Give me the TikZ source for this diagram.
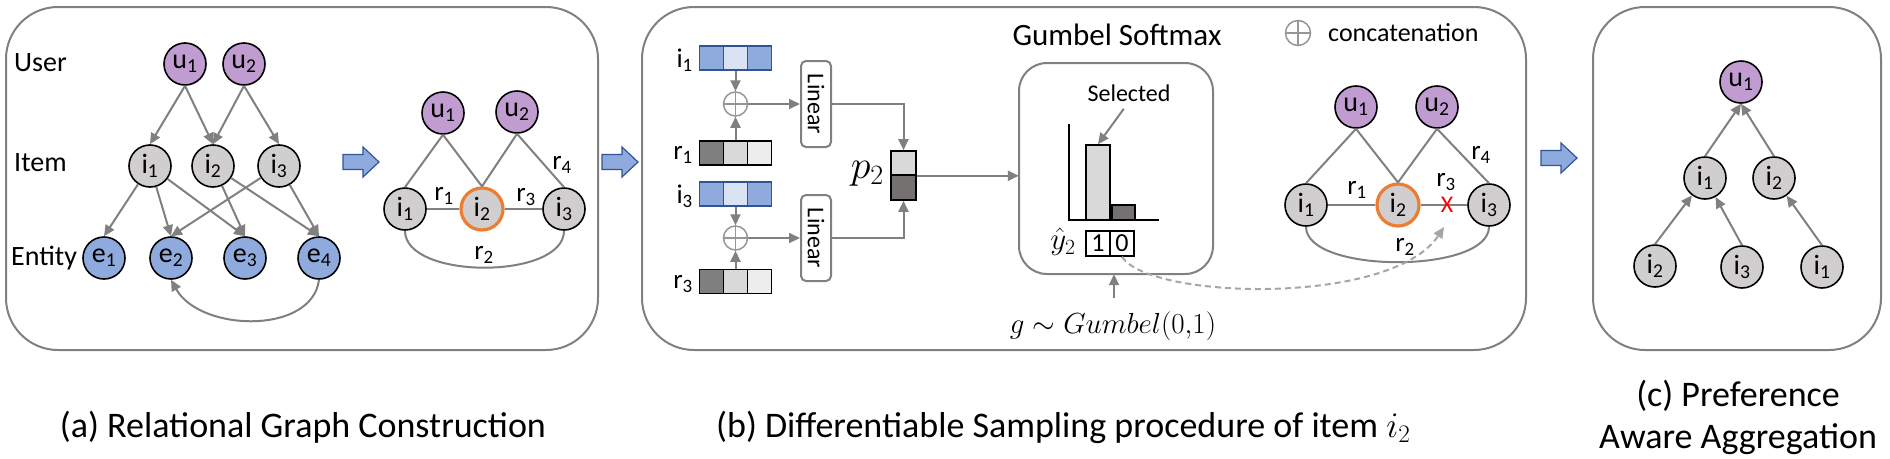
\RequirePackage{fix-cm}
\documentclass[tikz,border=0pt]{standalone}
\usepackage{fontspec}
\setmainfont{Carlito}
\usetikzlibrary{arrows.meta}
\definecolor{upurple}{RGB}{192,156,208}
\definecolor{igray}{RGB}{208,206,206}
\definecolor{eblue}{RGB}{143,170,220}
\definecolor{orng}{RGB}{237,125,49}
\definecolor{lgray}{RGB}{128,128,128}
\definecolor{pgray}{RGB}{128,128,128}
\definecolor{vblue}{RGB}{143,170,220}
\definecolor{vlblue}{RGB}{218,227,243}
\definecolor{vdblue}{RGB}{47,85,151}
\definecolor{dgray}{RGB}{118,113,113}
\definecolor{mgray}{RGB}{127,127,127}
\definecolor{cgray}{RGB}{217,217,217}
\definecolor{ctgray}{RGB}{237,237,237}
\definecolor{opgray}{RGB}{150,150,150}
\definecolor{dashgray}{RGB}{166,166,166}
\newcommand\fsz[1]{\fontsize{#1}{#1}\selectfont}
\newcommand\blkarr[2]{%
  \draw[draw=vdblue, fill=eblue, line width=1.2pt] (#1,#2-7.5) -- (#1+20,#2-7.5) -- (#1+20,#2-15) -- (#1+36,#2) -- (#1+20,#2+15) -- (#1+20,#2+7.5) -- (#1,#2+7.5) -- cycle;}
\tikzset{
  nd/.style={circle, draw=black, line width=1.6pt, minimum size=42pt, inner sep=0pt, font=\fsz{28}},
  usr/.style={nd, fill=upurple},
  itm/.style={nd, fill=igray},
  ent/.style={nd, fill=eblue},
  sel/.style={nd, fill=igray, draw=orng, line width=3.2pt},
  arr/.style={draw=lgray, line width=2pt, -{Triangle[length=11pt,width=10pt]}},
  ln/.style={draw=lgray, line width=2pt},
  panel/.style={draw=pgray, line width=2pt, rounded corners=52pt},
  lab/.style={font=\fsz{27}, inner sep=0pt},
  cellb/.style={draw=vdblue, line width=1.6pt, minimum width=24pt, minimum height=24pt, inner sep=0pt},
  cellg/.style={draw=black, line width=1.6pt, minimum width=24pt, minimum height=24pt, inner sep=0pt},
  opc/.style={circle, draw=opgray, line width=1.5pt, minimum size=24pt, inner sep=0pt},
  linbox/.style={draw=lgray, line width=2pt, rounded corners=5pt, minimum width=86pt, minimum height=30pt, inner sep=0pt, font=\fsz{24}, rotate=-90},
  captxt/.style={font=\fsz{36}, inner sep=0pt},
}
\begin{document}
\begin{tikzpicture}[x=1pt,y=-1pt]
\useasboundingbox (0,0) rectangle (1890,458);
% panels
\draw[panel] (6,7) rectangle (598,350);
\draw[panel] (642,7) rectangle (1526,350);
\draw[panel] (1593,7) rectangle (1881,350);
% block arrows
\blkarr{343}{162}
\blkarr{602}{162}
\blkarr{1541}{158}

% ---------- panel (a), graph 1
\node[lab, anchor=west, font=\fsz{28}] (tuser) at (14,63) {User};
\node[lab, anchor=west, font=\fsz{28}] (titem) at (14,163) {Item};
\node[lab, anchor=west, font=\fsz{28}] (tent) at (11,258) {Entity};
\node[usr] (au1) at (185,64) {u\textsubscript{1}};
\node[usr] (au2) at (244,64) {u\textsubscript{2}};
\node[itm] (ai1) at (150,166) {i\textsubscript{1}};
\node[itm] (ai2) at (213,166) {i\textsubscript{2}};
\node[itm] (ai3) at (279,166) {i\textsubscript{3}};
\node[ent] (ae1) at (104,258) {e\textsubscript{1}};
\node[ent] (ae2) at (171,258) {e\textsubscript{2}};
\node[ent] (ae3) at (245,258) {e\textsubscript{3}};
\node[ent] (ae4) at (319,258) {e\textsubscript{4}};
\draw[arr] (au1.south) -- (ai1.north);
\draw[arr] (au1.south) -- (ai2.north);
\draw[arr] (au2.south) -- (ai2.north);
\draw[arr] (au2.south) -- (ai3.north);
\draw[arr] (ai1) -- (ae1.north);
\draw[arr] (ai1) -- (ae2.north);
\draw[arr] (ai1) -- (ae3.north);
\draw[arr] (ai2) -- (ae3.north);
\draw[arr] (ai2) -- (ae4.north);
\draw[arr] (ai3) -- (ae2.north);
\draw[arr] (ai3) -- (ae4.north);
\draw[arr] (ae4.south) .. controls (312,335) and (200,332) .. (ae2.south);

% ---------- panel (a), graph 2
\node[usr] (bu1) at (443,113) {u\textsubscript{1}};
\node[usr] (bu2) at (517,112) {u\textsubscript{2}};
\node[itm] (bi1) at (405,209) {i\textsubscript{1}};
\node[sel] (bi2) at (482,209) {i\textsubscript{2}};
\node[itm] (bi3) at (564,209) {i\textsubscript{3}};
\draw[ln] (bu1.south) -- (bi1.north);
\draw[ln] (bu1.south) -- (bi2.north);
\draw[ln] (bu2.south) -- (bi2.north);
\draw[ln] (bu2.south) -- (bi3.north);
\draw[ln] (bi1) -- (bi2);
\draw[ln] (bi2) -- (bi3);
\draw[ln] (bi1.south) .. controls (405,280) and (564,280) .. (bi3.south);
\node[lab] (br1) at (444,196) {r\textsubscript{1}};
\node[lab] (br3) at (526,197) {r\textsubscript{3}};
\node[lab] (br4) at (562,165) {r\textsubscript{4}};
\node[lab] (br2) at (484,255) {r\textsubscript{2}};

% ---------- panel (b), left part
\node[lab, anchor=east] (li1) at (693,60) {i\textsubscript{1}};
\node[cellb, fill=vblue] (v1a) at (711.5,58) {};
\node[cellb, fill=vlblue] (v1b) at (735.5,58) {};
\node[cellb, fill=vblue] (v1c) at (759.5,58) {};
\node[lab, anchor=east] (lr1) at (693,155) {r\textsubscript{1}};
\node[cellg, fill=mgray] (w1a) at (711.5,153) {};
\node[cellg, fill=cgray] (w1b) at (735.5,153) {};
\node[cellg, fill=ctgray] (w1c) at (759.5,153) {};
\node[opc] (op1) at (735.5,104) {};
\draw[draw=opgray, line width=1.5pt] (op1.north) -- (op1.south) (op1.west) -- (op1.east);
\draw[arr] (v1b) -- (op1);
\draw[arr] (w1b) -- (op1);
\node[linbox] (lin1) at (816,104) {Linear};
\draw[arr] (op1) -- (lin1);

\node[lab, anchor=east] (li3) at (693,196) {i\textsubscript{3}};
\node[cellb, fill=vblue] (v3a) at (711.5,194) {};
\node[cellb, fill=vlblue] (v3b) at (735.5,194) {};
\node[cellb, fill=vblue] (v3c) at (759.5,194) {};
\node[lab, anchor=east] (lr3) at (693,284) {r\textsubscript{3}};
\node[cellg, fill=mgray] (w3a) at (711.5,281.5) {};
\node[cellg, fill=cgray] (w3b) at (735.5,281.5) {};
\node[cellg, fill=ctgray] (w3c) at (759.5,281.5) {};
\node[opc] (op2) at (735.5,238) {};
\draw[draw=opgray, line width=1.5pt] (op2.north) -- (op2.south) (op2.west) -- (op2.east);
\draw[arr] (v3b) -- (op2);
\draw[arr] (w3b) -- (op2);
\node[linbox] (lin2) at (816,238) {Linear};
\draw[arr] (op2) -- (lin2);

\node[cellg, fill=cgray, minimum width=25pt] (p2t) at (903.5,163) {};
\node[cellg, fill=dgray, minimum width=25pt, minimum height=25pt] (p2b) at (903.5,187.5) {};
\node[inner sep=0pt, font=\fsz{40}, anchor=east] (p2lab) at (884,174) {$p_2$};
\draw[arr] (lin1) -| (p2t.north);
\draw[arr] (lin2) -| (p2b.south);

% ---------- Gumbel softmax box
\node[font=\fsz{31}, inner sep=0pt] (gstitle) at (1117,35) {Gumbel Softmax};
\draw[draw=lgray, line width=2pt, rounded corners=28pt] (1019,63) rectangle (1213,274);
\node[draw=none, minimum width=194pt, minimum height=211pt, inner sep=0pt] (gbox) at (1116,168.5) {};
\draw[arr] (p2t.south east) -- (p2t.south east -| gbox.west);
\node[font=\fsz{24}, inner sep=0pt] (selt) at (1129,93) {Selected};
\draw[black, line width=1.6pt] (1069,124) -- (1069,220) -- (1159,220);
\node[cellg, fill=cgray, minimum width=24pt, minimum height=75pt] (bar1) at (1098,182.5) {};
\node[cellg, fill=dgray, minimum width=23pt, minimum height=15pt] (bar2) at (1123.5,212.5) {};
\draw[arr, shorten <=9pt] (selt.south) -- (bar1.north);
\node[inner sep=0pt, font=\fsz{31}] (yhat) at (1063,242) {$\hat{y}_2$};
\node[cellg, fill=white, font=\fsz{26}, minimum height=25pt] (c1) at (1098,243.5) {1};
\node[cellg, fill=white, font=\fsz{26}, minimum height=25pt] (c0) at (1122,243.5) {0};
\node[inner sep=0pt, font=\fsz{29}] (gum) at (1113,326) {$g\sim Gumbel(0{,}1)$};
\coordinate (gtail) at (1114,298);
\draw[arr] (gtail) -- (gtail |- gbox.south);
\node[opc, minimum size=25pt] (legop) at (1298,33) {};
\draw[draw=opgray, line width=1.5pt] (legop.north) -- (legop.south) (legop.west) -- (legop.east);
\node[font=\fsz{26}, inner sep=0pt, anchor=west] (legtxt) at (1328,33) {concatenation};

% ---------- panel (b), graph
\node[usr] (cu1) at (1356,107) {u\textsubscript{1}};
\node[usr] (cu2) at (1437,107) {u\textsubscript{2}};
\node[itm] (ci1) at (1306,205) {i\textsubscript{1}};
\node[sel] (ci2) at (1398,205) {i\textsubscript{2}};
\node[itm] (ci3) at (1489,205) {i\textsubscript{3}};
\draw[ln] (cu1.south) -- (ci1.north);
\draw[ln] (cu1.south) -- (ci2.north);
\draw[ln] (cu2.south) -- (ci2.north);
\draw[ln] (cu2.south) -- (ci3.north);
\draw[ln] (ci1) -- (ci2);
\draw[ln] (ci2) -- (ci3);
\draw[ln] (ci1.south) .. controls (1306,274) and (1489,274) .. (ci3.south);
\node[inner sep=0pt, text=red, font=\fsz{24}] (xmark) at (1447,205) {X};
\node[lab] (cr1) at (1357,190) {r\textsubscript{1}};
\node[lab] (cr3) at (1446,182) {r\textsubscript{3}};
\node[lab] (cr4) at (1481,155) {r\textsubscript{4}};
\node[lab] (cr2) at (1405,247) {r\textsubscript{2}};
\coordinate (dend) at (1444,227);
\draw[draw=dashgray, line width=2pt, dash pattern=on 6pt off 4pt, -{Triangle[length=11pt,width=10pt]}] (c0.south) .. controls (1150,300) and (1392,306) .. (dend);

% ---------- panel (c)
\node[usr] (du1) at (1741,82) {u\textsubscript{1}};
\node[itm] (di1) at (1705,178) {i\textsubscript{1}};
\node[itm] (di2) at (1774,178) {i\textsubscript{2}};
\node[itm] (dj2) at (1655,266) {i\textsubscript{2}};
\node[itm] (dj3) at (1742,267) {i\textsubscript{3}};
\node[itm] (dj1) at (1822,267) {i\textsubscript{1}};
\draw[arr] (di1.north) -- (du1.south);
\draw[arr] (di2.north) -- (du1.south);
\draw[arr] (dj2.north) -- (di1);
\draw[arr] (dj3.north) -- (di1);
\draw[arr] (dj1.north) -- (di2);

% ---------- captions
\node[captxt, anchor=base] (capa) at (303,437) {(a) Relational Graph Construction};
\node[captxt, anchor=base west] (capb) at (716,437) {(b) Differentiable Sampling procedure of item $i_2$};
\node[captxt, anchor=base] (capc1) at (1738,406) {(c) Preference};
\node[captxt, anchor=base] (capc2) at (1738,448) {Aware Aggregation};
\end{tikzpicture}
\end{document}
